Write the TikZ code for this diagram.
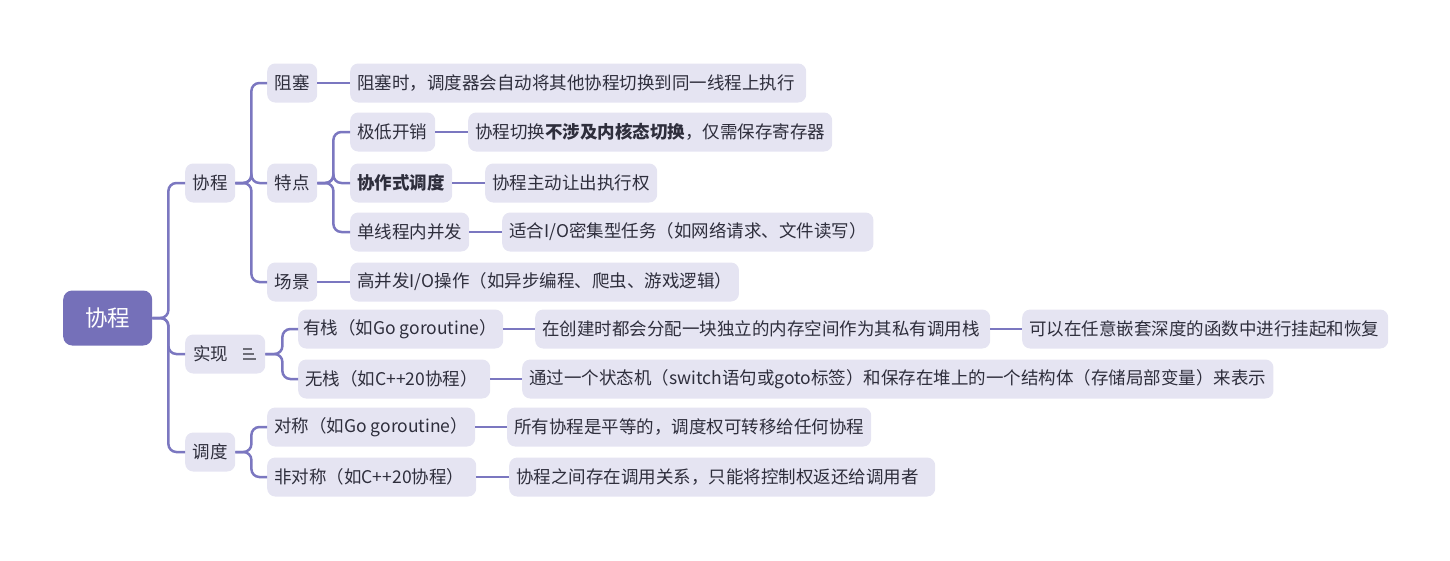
\documentclass[tikz,border=0pt]{standalone}
\usepackage{fontspec}
\setmainfont{Noto Sans CJK SC}
\definecolor{lineC}{HTML}{7B77C0}
\definecolor{boxC}{HTML}{E5E4F2}
\definecolor{rootC}{HTML}{7570B9}
\definecolor{txtC}{HTML}{2E2E3C}
\newsavebox{\bxbox}
\newcommand\bx[2]{\sbox{\bxbox}{#2}\ifdim\wd\bxbox<#1\makebox[#1][l]{\usebox{\bxbox}}\else\usebox{\bxbox}\fi}
\tikzset{
  box/.style={draw=none, fill=boxC, rounded corners=8pt, anchor=west, minimum height=39pt,
    inner xsep=7pt, inner ysep=0pt, text=txtC, font=\fontsize{17.5}{20}\selectfont},
  rootbox/.style={draw=none, fill=rootC, rounded corners=9pt, anchor=west, minimum height=55pt,
    inner xsep=22pt, text=white, font=\fontsize{22.5}{26}\selectfont},
  conn/.style={draw=lineC, line width=2.5pt, rounded corners=8pt},
}
\begin{document}
\begin{tikzpicture}[x=1pt,y=-1pt]
\useasboundingbox (0,0) rectangle (1450,560);
% root
\node[rootbox, minimum width=89pt] (root) at (63,318) {协程};
% level 1
\node[box, minimum width=50pt] (xc) at (185,183) {协程};
\node[box, text width=64pt, align=left, inner xsep=8pt] (sx) at (185,354) {实现};
\node[box, minimum width=50pt] (dd) at (185,452) {调度};
% level 2 under 协程
\node[box, minimum width=50pt] (zs) at (267,83) {阻塞};
\node[box, minimum width=50pt] (td) at (267,183) {特点};
\node[box, minimum width=50pt] (cj) at (267,282) {场景};
\node[box] (zs1) at (350,83) {\bx{442pt}{阻塞时，调度器会自动将其他协程切换到同一线程上执行}};
\node[box] (jd) at (350,132) {\bx{71pt}{极低开销}};
\node[box] (jd1) at (468,132) {\bx{350pt}{协程切换\textbf{不涉及内核态切换}，仅需保存寄存器}};
\node[box] (xz) at (350,183) {\bx{88pt}{\textbf{协作式调度}}};
\node[box] (xz1) at (485,183) {\bx{158pt}{协程主动让出执行权}};
\node[box] (dx) at (350,232) {\bx{105pt}{单线程内并发}};
\node[box] (dx1) at (502,232) {\bx{357pt}{适合I/O密集型任务（如网络请求、文件读写）}};
\node[box] (cj1) at (350,282) {\bx{374pt}{高并发I/O操作（如异步编程、爬虫、游戏逻辑）}};
% under 实现
\node[box, inner xsep=5pt] (yz) at (298,329) {\bx{195pt}{有栈（如Go goroutine）}};
\node[box] (yz1) at (535,329) {\bx{441pt}{在创建时都会分配一块独立的内存空间作为其私有调用栈}};
\node[box] (yz2) at (1022,329) {\bx{352pt}{可以在任意嵌套深度的函数中进行挂起和恢复}};
\node[box] (wz) at (298,379) {\bx{178pt}{无栈（如C++20协程）}};
\node[box] (wz1) at (522,379) {\bx{737pt}{通过一个状态机（switch语句或goto标签）和保存在堆上的一个结构体（存储局部变量）来表示}};
% under 调度
\node[box] (dc) at (267,427) {\bx{193pt}{对称（如Go goroutine）}};
\node[box] (dc1) at (507,427) {\bx{349pt}{所有协程是平等的，调度权可转移给任何协程}};
\node[box] (fd) at (267,477) {\bx{195pt}{非对称（如C++20协程）}};
\node[box] (fd1) at (509,477) {\bx{412pt}{协程之间存在调用关系，只能将控制权返还给调用者}};
% icon in 实现
\draw[txtC!70, line width=1.3pt] ([xshift=-22pt,yshift=-5pt]sx.east) -- ++(13,0)
  ([xshift=-22pt]sx.east) -- ++(11,0)
  ([xshift=-22pt,yshift=5pt]sx.east) -- ++(9,0);
% connectors
\foreach \c in {xc,sx,dd} \draw[conn] (root.east) -- ++(16,0) |- (\c.west);
\foreach \c in {zs,td,cj} \draw[conn] (xc.east) -- ++(16,0) |- (\c.west);
\foreach \c in {jd,xz,dx} \draw[conn] (td.east) -- ++(16,0) |- (\c.west);
\foreach \c in {yz,wz} \draw[conn] (sx.east) -- ++(17,0) |- (\c.west);
\foreach \c in {dc,fd} \draw[conn] (dd.east) -- ++(16,0) |- (\c.west);
\draw[conn] (zs.east) -- (zs1.west);
\draw[conn] (jd.east) -- (jd1.west);
\draw[conn] (xz.east) -- (xz1.west);
\draw[conn] (dx.east) -- (dx1.west);
\draw[conn] (cj.east) -- (cj1.west);
\draw[conn] (yz.east) -- (yz1.west);
\draw[conn] (yz1.east) -- (yz2.west);
\draw[conn] (wz.east) -- (wz1.west);
\draw[conn] (dc.east) -- (dc1.west);
\draw[conn] (fd.east) -- (fd1.west);
\end{tikzpicture}
\end{document}
